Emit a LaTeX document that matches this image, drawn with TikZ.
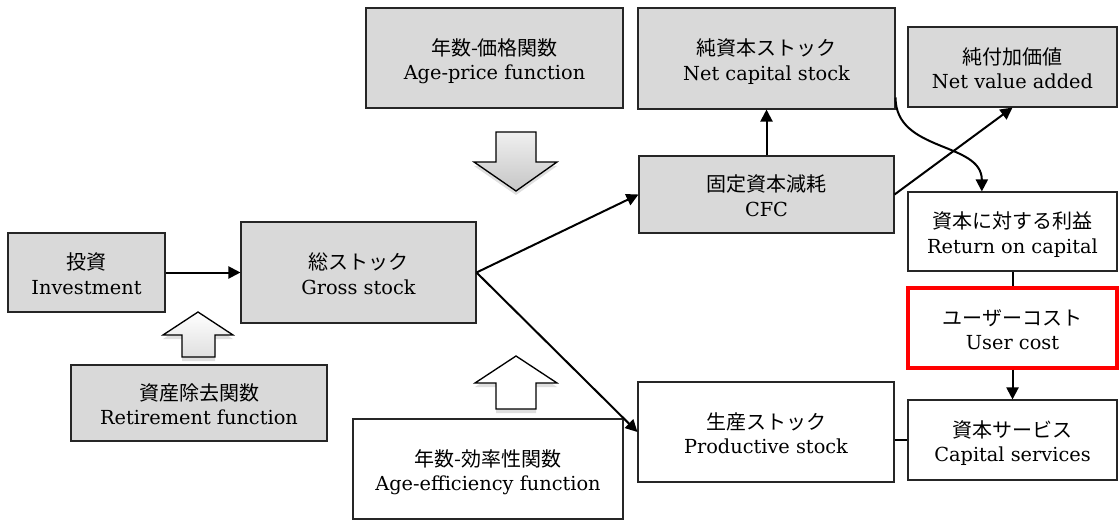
\documentclass[tikz,border=0pt]{standalone}
\usepackage{fontspec}
\setmainfont{DejaVu Serif}
\newfontfamily\jpfont{Noto Sans CJK JP}
\usetikzlibrary{arrows.meta,shadows}
\newcommand\twoline[2]{\fontsize{14.5}{18.5}\selectfont\raisebox{-3.5pt}[\height][\depth]{\begin{tabular}{@{}c@{}}{\jpfont\fontsize{15}{18.5}\selectfont #1}\\#2\end{tabular}}}
\begin{document}
\begin{tikzpicture}[x=0.75pt,y=-0.75pt,
  box/.style={draw=black!85, line width=0.8pt, inner sep=0pt, anchor=center,
    text=black},
  sz/.style 2 args={minimum width=#1*0.75pt, minimum height=#2*0.75pt},
  gbox/.style={box, fill=gray!30},
  wbox/.style={box, fill=white},
  rbox/.style={box, fill=white, draw=red, line width=2.3pt},
  conn/.style={line width=1.5pt, black, -{Triangle[length=9pt,width=9pt]}},
  plain/.style={line width=1.5pt, black},
  blockarrow/.style={draw=black, line width=1pt,
    drop shadow={opacity=0.25, shadow xshift=0pt, shadow yshift=-3pt}}
]
\useasboundingbox (0,0) rectangle (1119,520);

% boxes
\node[gbox, sz={157}{79}] (inv) at (86.5,272.5) {\twoline{投資}{Investment}};
\node[gbox, sz={235}{101}] (gross) at (358.5,272.5) {\twoline{総ストック}{Gross stock}};
\node[gbox, sz={256}{76}] (ret) at (199,403) {\twoline{資産除去関数}{Retirement function}};
\node[gbox, sz={257}{100}] (agep) at (494.5,58) {\twoline{年数-価格関数}{Age-price function}};
\node[wbox, sz={270}{100}] (agee) at (488,469) {\twoline{年数-効率性関数}{Age-efficiency function}};
\node[gbox, sz={257}{101}] (ncs) at (766.5,58.5) {\twoline{純資本ストック}{Net capital stock}};
\node[gbox, sz={255}{77}] (cfc) at (766.5,194.5) {\twoline{固定資本減耗}{CFC}};
\node[wbox, sz={256}{100}] (prod) at (766,432) {\twoline{生産ストック}{Productive stock}};
\node[gbox, sz={209}{80}] (nva) at (1012.5,67) {\twoline{純付加価値}{Net value added}};
\node[wbox, sz={209}{79}] (roc) at (1012.5,231.5) {\twoline{資本に対する利益}{Return on capital}};
\node[rbox, sz={209}{80}] (uc) at (1012.5,328) {\twoline{ユーザーコスト}{User cost}};
\node[wbox, sz={209}{80}] (cs) at (1012.5,440) {\twoline{資本サービス}{Capital services}};

% block arrows
\path[blockarrow, top color=gray!12, bottom color=gray!45]
  (496,132) -- (536,132) -- (536,162) -- (557,162) -- (516,191) -- (474,162) -- (496,162) -- cycle;
\path[blockarrow, top color=white, bottom color=gray!25]
  (182,357) -- (215,357) -- (215,335) -- (233,335) -- (198,312) -- (163,335) -- (182,335) -- cycle;
\path[blockarrow, fill=white]
  (496,409) -- (536,409) -- (536,383) -- (557,383) -- (516,356) -- (475,383) -- (496,383) -- cycle;

% connectors
\draw[conn] (inv.east) -- (gross.west);
\draw[conn] (gross.east) -- (cfc.west);
\draw[conn] (gross.east) -- (prod.west);
\draw[conn] (cfc.north) -- (ncs.south);
\draw[conn] (cfc.east) -- (nva.south);
\coordinate (cs0) at ([yshift=9pt]ncs.south east);
\coordinate (ce0) at ([xshift=-23pt]roc.north);
\draw[conn] (cs0) .. controls +(0,55) and +(0,-50) .. (ce0);
\draw[plain] (roc.south) -- (uc.north);
\draw[conn] (uc.south) -- (cs.north);
\draw[plain] (prod.east |- cs.west) -- (cs.west);
\end{tikzpicture}
\end{document}
